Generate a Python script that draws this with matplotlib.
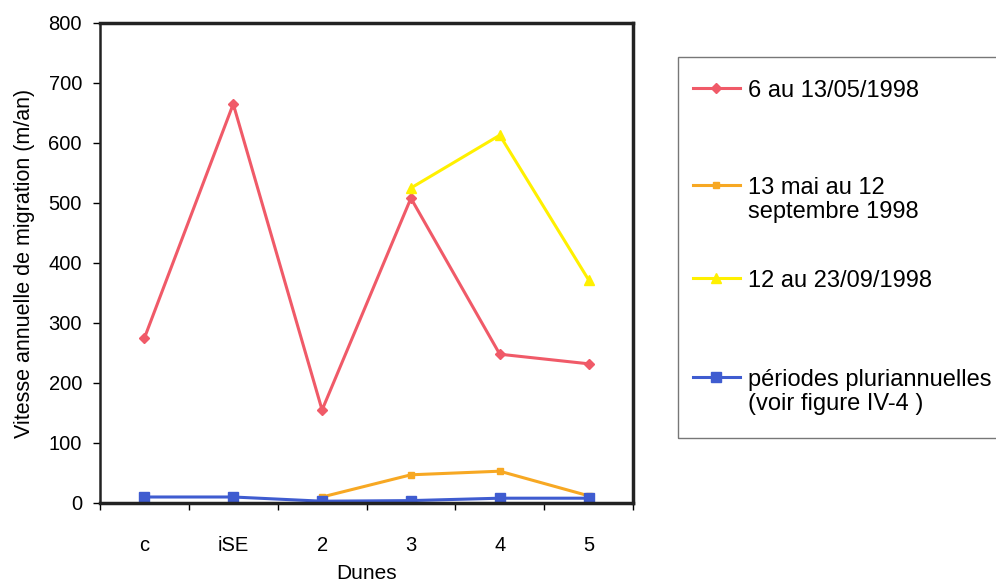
import numpy as np
import matplotlib
matplotlib.use("Agg")
import matplotlib.pyplot as plt
from matplotlib.lines import Line2D
from matplotlib.patches import Rectangle

plt.rcParams['font.family'] = ['Liberation Sans', 'DejaVu Sans']

# dunes and migration speeds (m/an)
dunes = ['c', 'iSE', '2', '3', '4', '5']
mai_1998 = [275, 665, 155, 508, 248, 232]            # 6 au 13/05/1998
mai_sept = [None, None, 10, 47, 53, 12]              # 13 mai au 12 septembre 1998
sept_1998 = [None, None, None, 525, 613, 372]        # 12 au 23/09/1998
pluri = [10, 10, 3, 4, 8, 8]                         # periodes pluriannuelles

labels = ['6 au 13/05/1998',
          '13 mai au 12\nseptembre 1998',
          '12 au 23/09/1998',
          'périodes pluriannuelles\n(voir figure IV-4 )']

def to_arr(v):
    return np.array([np.nan if x is None else x for x in v], dtype=float)

W, H = 996, 585
fig = plt.figure(figsize=(W / 100, H / 100), dpi=100)
ax = fig.add_axes([100 / W, 82 / H, 533 / W, 480 / H])

x = np.arange(len(dunes))
l1, = ax.plot(x, to_arr(mai_1998), color='#F05A68', marker='D', ms=5, lw=2.2)
l2, = ax.plot(x, to_arr(mai_sept), color='#F7A823', marker='s', ms=5, lw=2.2)
l3, = ax.plot(x, to_arr(sept_1998), color='#FFF000', marker='^', ms=7, lw=2.2)
l4, = ax.plot(x, to_arr(pluri), color='#3F5CD0', marker='s', ms=7, lw=2.2)

ax.set_xlim(-0.5, len(dunes) - 0.5)
ax.set_ylim(0, 800)
ax.set_yticks(range(0, 801, 100))
ax.set_xticks(x)
ax.set_xticklabels(dunes)
ax.set_xticks(np.arange(-0.5, len(dunes)), minor=True)
ax.tick_params(axis='x', which='major', length=0, pad=24, labelsize=14.5)
ax.tick_params(axis='x', which='minor', length=5, width=1, direction='out')
ax.tick_params(axis='y', length=5, width=1, labelsize=14.5, pad=8)

for s in ax.spines.values():
    s.set_linewidth(2.5)
    s.set_color('#222222')
ax.spines['left'].set_linewidth(1.8)

ax.set_xlabel('Dunes', fontsize=15, labelpad=6)
ax.set_ylabel('Vitesse annuelle de migration (m/an)', fontsize=15.5, labelpad=10)

# legend box drawn by hand (reference box runs past the right edge)
fig.patches.append(Rectangle((678 / W, 1 - 438 / H), 330 / W, (438 - 57) / H,
                             transform=fig.transFigure, fill=False,
                             edgecolor='#777777', lw=1.0))
handle_y = [88, 185, 278, 377]
for line, lab, hy in zip([l1, l2, l3, l4], labels, handle_y):
    yf = 1 - hy / H
    fig.add_artist(Line2D([693 / W, 740 / W], [yf, yf], transform=fig.transFigure,
                          color=line.get_color(), lw=line.get_linewidth()))
    fig.add_artist(Line2D([716 / W], [yf], transform=fig.transFigure,
                          color=line.get_color(), marker=line.get_marker(),
                          ms=line.get_markersize(), ls='none'))
    fig.text(748 / W, 1 - (hy - 8) / H, lab, fontsize=17, va='top', ha='left',
             linespacing=1.1)

fig.savefig('out.png', dpi=100)
